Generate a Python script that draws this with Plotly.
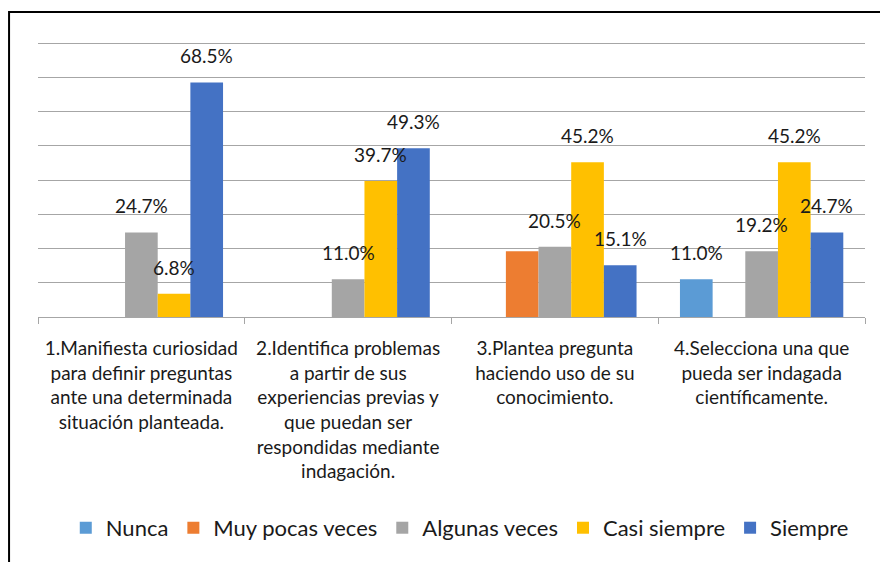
import plotly.graph_objects as go

# categories (x axis) and series
categories = [
    "1.Manifiesta curiosidad<br>para definir preguntas<br>ante una determinada<br>situación planteada.",
    "2.Identifica problemas<br>a partir de sus<br>experiencias previas y<br>que puedan ser<br>respondidas mediante<br>indagación.",
    "3.Plantea pregunta<br>haciendo uso de su<br>conocimiento.",
    "4.Selecciona una que<br>pueda ser indagada<br>científicamente.",
]
series_names = ["Nunca", "Muy pocas veces", "Algunas veces", "Casi siempre", "Siempre"]
nunca = [None, None, None, 11.0]
muy_pocas = [None, None, 19.2, None]
algunas = [24.7, 11.0, 20.5, 19.2]
casi_siempre = [6.8, 39.7, 45.2, 45.2]
siempre = [68.5, 49.3, 15.1, 24.7]
# data labels that are not shown in the original (series index, category index)
hidden_labels = [(1, 2)]

colors = ["#5B9BD5", "#ED7D31", "#A5A5A5", "#FFC000", "#4472C4"]
FONT = "Lato, Calibri, sans-serif"
BARGAP = 0.21

fig = go.Figure()
all_series = [nunca, muy_pocas, algunas, casi_siempre, siempre]
for name, vals, col in zip(series_names, all_series, colors):
    fig.add_trace(go.Bar(x=categories, y=vals, name=name, marker_color=col,
                         marker_line_width=0))

# data labels placed above each bar
w = (1 - BARGAP) / len(all_series)
annotations = []
for si, vals in enumerate(all_series):
    for ci, v in enumerate(vals):
        if v is None or (si, ci) in hidden_labels:
            continue
        annotations.append(dict(
            x=ci + (si - 2) * w, y=v, xref="x", yref="y",
            text=f"{v:.1f}%", showarrow=False, yanchor="bottom", yshift=13,
            font=dict(family=FONT, size=19, color="#1a1a1a"),
        ))

fig.update_layout(
    width=880, height=562,
    margin=dict(l=38, r=15, t=42, b=245, autoexpand=False),
    paper_bgcolor="white", plot_bgcolor="white",
    barmode="group", bargap=BARGAP, bargroupgap=0,
    font=dict(family=FONT, size=19, color="#1a1a1a"),
    annotations=annotations,
    legend=dict(orientation="h", x=0.51, xanchor="center", y=-0.767, yanchor="middle",
                font=dict(size=22), itemwidth=30, traceorder="normal"),
    shapes=[dict(type="rect", xref="paper", yref="paper",
                 x0=-0.035, y0=-2, x1=1.5, y1=1.109,
                 line=dict(color="black", width=2), fillcolor="rgba(0,0,0,0)")],
)
fig.update_xaxes(showline=True, linecolor="#a6a6a6", linewidth=1, tickangle=0,
                 automargin=False,
                 ticks="outside", tickson="boundaries", ticklen=6, tickcolor="#a6a6a6",
                 ticklabelstandoff=14, tickfont=dict(size=19))
fig.update_yaxes(range=[0, 80.3], dtick=10, showticklabels=False, showgrid=True,
                 gridcolor="#a6a6a6", gridwidth=1, zeroline=False)

fig.write_html("out.html", config={"displayModeBar": False},
               post_script="document.body.style.margin='0';")
